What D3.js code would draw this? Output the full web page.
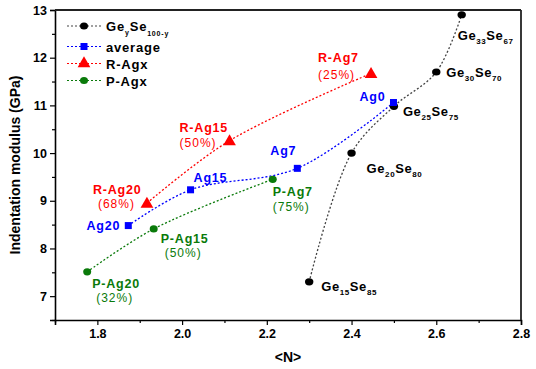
<!DOCTYPE html>
<html>
<head>
<script src="https://d3js.org/d3.v7.min.js"></script>
<style>
  body { margin: 0; background: #fff; }
  text { font-family: "Liberation Sans", Arial, sans-serif; }
</style>
</head>
<body>
<div id="chart"></div>
<script>
// ---- data ----
var geseN = [2.30, 2.40, 2.50, 2.60, 2.66];
var geseE = [7.30, 10.00, 10.98, 11.70, 12.90];
var geseNames = [["15", "85"], ["20", "80"], ["25", "75"], ["30", "70"], ["33", "67"]];

var avgN = [1.873, 2.02, 2.272, 2.499];
var avgE = [8.48, 9.23, 9.68, 11.06];
var avgNames = ["Ag20", "Ag15", "Ag7", "Ag0"];

var rN = [1.917, 2.112, 2.446];
var rE = [8.95, 10.26, 11.67];
var rNames = ["R-Ag20", "R-Ag15", "R-Ag7"];
var rPct = ["(68%)", "(50%)", "(25%)"];

var pN = [1.776, 1.933, 2.214];
var pE = [7.51, 8.41, 9.45];
var pNames = ["P-Ag20", "P-Ag15", "P-Ag7"];
var pPct = ["(32%)", "(50%)", "(75%)"];

var xTicks = [1.8, 2.0, 2.2, 2.4, 2.6, 2.8];
var yTicks = [7, 8, 9, 10, 11, 12, 13];

var width = 536, height = 369;
var margin = { left: 55, right: 15, top: 10, bottom: 49 };

var svg = d3.select("#chart").append("svg")
  .attr("width", width).attr("height", height);

var x = d3.scaleLinear().domain([1.7, 2.8]).range([margin.left, width - margin.right]);
var y = d3.scaleLinear().domain([6.5, 13]).range([height - margin.bottom, margin.top]);

var RED = "#ff0000", BLUE = "#0000ff", GREEN = "#0a7a0a", BLACK = "#000";

// axes
svg.append("g").attr("transform", "translate(0," + y(6.5) + ")")
  .call(d3.axisBottom(x).tickValues(xTicks).tickFormat(d3.format(".1f")).tickSize(5).tickPadding(4));
svg.append("g").attr("transform", "translate(0," + y(6.5) + ")")
  .call(d3.axisBottom(x).tickValues([1.7, 1.9, 2.1, 2.3, 2.5, 2.7]).tickFormat("").tickSize(3))
  .select(".domain").remove();
svg.append("g").attr("transform", "translate(" + x(1.7) + ",0)")
  .call(d3.axisLeft(y).tickValues(yTicks).tickFormat(d3.format("d")).tickSize(5).tickPadding(3));
svg.append("g").attr("transform", "translate(" + x(1.7) + ",0)")
  .call(d3.axisLeft(y).tickValues(d3.range(6.5, 13, 1)).tickFormat("").tickSize(3))
  .select(".domain").remove();

svg.selectAll(".domain").attr("stroke-width", 1.6);
svg.selectAll(".tick line").attr("stroke-width", 1.2);
svg.selectAll(".tick text").attr("font-size", 12.5).attr("font-weight", "bold")
  .attr("font-family", "Liberation Sans, Arial, sans-serif");

// frame top and right
svg.append("line").attr("x1", x(1.7)).attr("x2", x(2.8)).attr("y1", y(13)).attr("y2", y(13))
  .attr("stroke", "#222").attr("stroke-width", 2.2);
svg.append("line").attr("x1", x(2.8)).attr("x2", x(2.8)).attr("y1", y(13)).attr("y2", y(6.5))
  .attr("stroke", "#222").attr("stroke-width", 1.8);

// axis titles
svg.append("text").attr("x", (x(1.7) + x(2.8)) / 2).attr("y", 362)
  .attr("text-anchor", "middle").attr("font-size", 14).attr("font-weight", "bold").text("<N>");
svg.append("text").attr("transform", "translate(20," + (y(6.5) + y(13)) / 2 + ") rotate(-90)")
  .attr("text-anchor", "middle").attr("font-size", 14).attr("font-weight", "bold")
  .text("Indentation modulus (GPa)");

// series
var line = d3.line().x(function(d){ return x(d[0]); }).y(function(d){ return y(d[1]); })
  .curve(d3.curveCatmullRom.alpha(0.5));

function drawLine(ns, es, color) {
  svg.append("path").datum(d3.zip(ns, es)).attr("d", line)
    .attr("fill", "none").attr("stroke", color).attr("stroke-width", 1.3)
    .attr("stroke-dasharray", "2,2");
}
drawLine(geseN, geseE, "#444");
drawLine(avgN, avgE, BLUE);
drawLine(rN, rE, RED);
drawLine(pN, pE, GREEN);

var tri = d3.symbol().type(d3.symbolTriangle).size(70);

svg.selectAll(".ge").data(d3.zip(geseN, geseE)).enter().append("ellipse")
  .attr("cx", function(d){ return x(d[0]); }).attr("cy", function(d){ return y(d[1]); })
  .attr("rx", 4.2).attr("ry", 3.6).attr("fill", BLACK);
svg.selectAll(".avg").data(d3.zip(avgN, avgE)).enter().append("rect")
  .attr("x", function(d){ return x(d[0]) - 3.5; }).attr("y", function(d){ return y(d[1]) - 3.5; })
  .attr("width", 7).attr("height", 7).attr("fill", BLUE);
svg.selectAll(".r").data(d3.zip(rN, rE)).enter().append("path")
  .attr("d", tri).attr("fill", RED)
  .attr("transform", function(d){ return "translate(" + x(d[0]) + "," + (y(d[1]) + 1) + ")"; });
svg.selectAll(".p").data(d3.zip(pN, pE)).enter().append("ellipse")
  .attr("cx", function(d){ return x(d[0]); }).attr("cy", function(d){ return y(d[1]); })
  .attr("rx", 4).attr("ry", 3.6).attr("fill", GREEN);

// labels (offsets in px from their point)
function label(px, py, dx, dy, str, color, bold, anchor) {
  return svg.append("text").attr("x", px + dx).attr("y", py + dy)
    .attr("fill", color).attr("font-size", bold ? 12.5 : 12)
    .attr("font-weight", bold ? "bold" : "normal")
    .attr("letter-spacing", bold ? 0.8 : 1)
    .attr("text-anchor", anchor || "start").text(str);
}

// Ge_y Se_100-y labels
var geOff = [[12, 9], [15, 20], [9, 10], [10, 5], [-4, 25]];
geseN.forEach(function(n, i) {
  var t = svg.append("text").attr("x", x(n) + geOff[i][0]).attr("y", y(geseE[i]) + geOff[i][1])
    .attr("font-size", 13).attr("font-weight", "bold").attr("letter-spacing", 0.6);
  t.append("tspan").text("Ge");
  t.append("tspan").attr("dy", 4).attr("font-size", 8).text(geseNames[i][0]);
  t.append("tspan").attr("dy", -4).text("Se");
  t.append("tspan").attr("dy", 4).attr("font-size", 8).text(geseNames[i][1]);
});

var avgOff = [[-8, 4, "end"], [3, -8, "start"], [-27, -13, "start"], [-8, -2, "end"]];
avgN.forEach(function(n, i) {
  label(x(n), y(avgE[i]), avgOff[i][0], avgOff[i][1], avgNames[i], BLUE, true, avgOff[i][2]);
});

var rOff = [[-54, -9, -49, 5], [-50, -9, -50, 6], [-53, -11, -53, 6]];
rN.forEach(function(n, i) {
  label(x(n), y(rE[i]), rOff[i][0], rOff[i][1], rNames[i], RED, true);
  label(x(n), y(rE[i]), rOff[i][2], rOff[i][3], rPct[i], RED, false);
});

var pOff = [[5, 16, 9, 30], [7, 14, 11, 28], [0, 17, 0, 32]];
pN.forEach(function(n, i) {
  label(x(n), y(pE[i]), pOff[i][0], pOff[i][1], pNames[i], GREEN, true);
  label(x(n), y(pE[i]), pOff[i][2], pOff[i][3], pPct[i], GREEN, false);
});

// legend
var legend = [
  { name: "GeSe", color: "#444", fill: BLACK, shape: "circle" },
  { name: "average", color: BLUE, fill: BLUE, shape: "square" },
  { name: "R-Agx", color: RED, fill: RED, shape: "triangle" },
  { name: "P-Agx", color: GREEN, fill: GREEN, shape: "circle" }
];
var lgY = [26, 46.5, 63.5, 80.5];
legend.forEach(function(d, i) {
  var g = svg.append("g").attr("transform", "translate(0," + lgY[i] + ")");
  g.append("line").attr("x1", 67).attr("x2", 101).attr("stroke", d.color)
    .attr("stroke-width", 1.2).attr("stroke-dasharray", "2,2");
  if (d.shape === "circle") g.append("ellipse").attr("cx", 84).attr("rx", 4).attr("ry", 3.5).attr("fill", d.fill);
  else if (d.shape === "square") g.append("rect").attr("x", 80.5).attr("y", -3.5).attr("width", 7).attr("height", 7).attr("fill", d.fill);
  else g.append("path").attr("d", tri).attr("transform", "translate(84,0)").attr("fill", d.fill);
  var t = g.append("text").attr("x", 106).attr("y", 5).attr("font-size", 13)
    .attr("font-weight", "bold").attr("letter-spacing", 0.8);
  if (i === 0) {
    t.append("tspan").text("Ge");
    t.append("tspan").attr("dy", 4).attr("font-size", 7).text("y");
    t.append("tspan").attr("dy", -4).text("Se");
    t.append("tspan").attr("dy", 5).attr("font-size", 7).text("100-y");
  } else {
    t.text(d.name);
  }
});
</script>
</body>
</html>
